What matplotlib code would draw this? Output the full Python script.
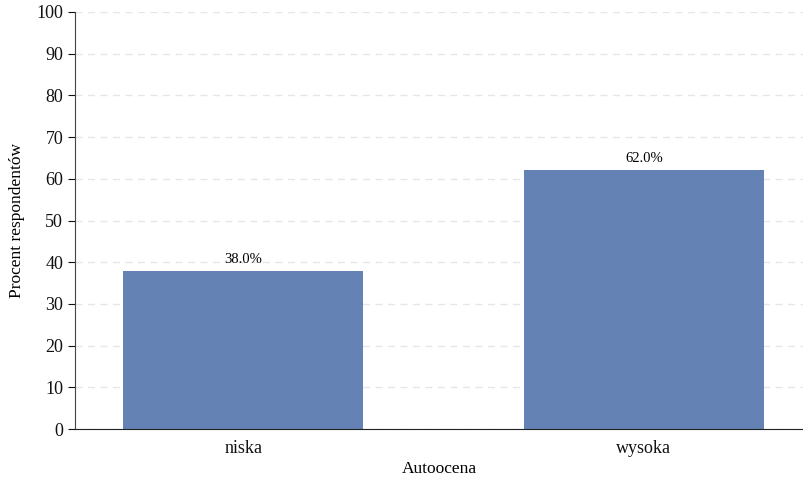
import matplotlib.pyplot as plt

categories = ['niska', 'wysoka']
values = [38.0, 62.0]
bar_labels = ['38.0%', '62.0%']

plt.rcParams['font.family'] = ['Liberation Serif', 'DejaVu Serif']

fig = plt.figure(figsize=(8.04, 4.78), dpi=100)
ax = fig.add_axes([75 / 804, 1 - 429 / 478, 1 - 75 / 804, (429 - 12) / 478])

x = range(len(categories))
bars = ax.bar(x, values, width=0.6, color='#6482b4', zorder=2)
for b, lab in zip(bars, bar_labels):
    ax.text(b.get_x() + b.get_width() / 2, b.get_height() + 1.2, lab,
            ha='center', va='bottom', fontsize=10.5, color='black')

ax.set_xlim(-0.42, 1.40)
ax.set_ylim(0, 100)
ax.set_yticks(range(0, 101, 10))
ax.set_xticks(list(x))
ax.set_xticklabels(categories)
ax.tick_params(axis='both', labelsize=13, colors='#111111', length=5)
ax.tick_params(axis='x', length=0, pad=8)
ax.yaxis.grid(True, linestyle=(0, (5, 4)), color='#e6e6e6', linewidth=1, zorder=0)
ax.set_axisbelow(True)
for s in ['top', 'right']:
    ax.spines[s].set_visible(False)
ax.spines['left'].set_color('#444444')
ax.spines['bottom'].set_color('#222222')
ax.set_xlabel('Autoocena', fontsize=12.5, labelpad=3, color='black')
ax.set_ylabel('Procent respondentów', fontsize=12.5, labelpad=8, color='black')

fig.savefig('out.png', dpi=100)
